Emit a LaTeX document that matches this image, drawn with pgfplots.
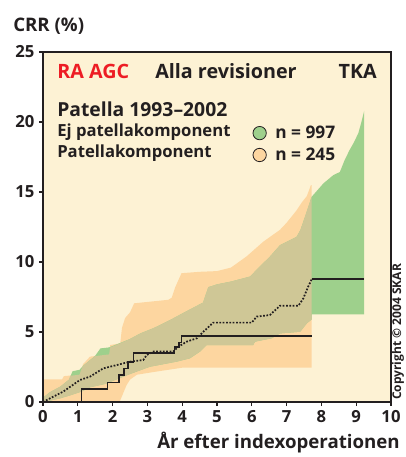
\documentclass[border=0pt]{standalone}
\usepackage{fontspec}
\setmainfont{Open Sans}
\usepackage{pgfplots}
\pgfplotsset{compat=1.18}
\usepgfplotslibrary{fillbetween}
\usepackage{pgfplotstable}

\definecolor{cream}{RGB}{253,242,212}
\definecolor{orangeband}{RGB}{253,214,160}
\definecolor{greenband}{RGB}{158,208,140}
\definecolor{oliveband}{RGB}{207,199,150}
\definecolor{skarred}{RGB}{237,28,36}
\definecolor{ink}{RGB}{35,31,32}

% Patellakomponent (n = 245): confidence band
\pgfplotstableread{
x y
0 1.62
0.55 1.62
0.6 1.85
1.05 1.95
1.15 2.7
1.35 3.24
1.9 3.4
1.93 4.07
2.22 4.19
2.27 5.3
2.36 6.0
2.5 6.4
2.62 7.05
3.6 7.3
3.7 7.45
3.8 8.2
3.98 9.2
4.5 9.3
5.0 9.35
5.4 9.6
5.85 10.4
6.33 11.45
6.81 12.3
7.0 12.8
7.29 13.7
7.45 14.3
7.58 14.7
7.7 15.5
7.72 15.5
}\orangeupper
\pgfplotstableread{
x y
0 0
2.2 0
2.3 0.6
2.4 1.2
2.5 1.6
2.7 1.95
3.2 2.15
3.6 2.3
4.0 2.45
7.72 2.45
}\orangelower

% Ej patellakomponent (n = 997): confidence band
\pgfplotstableread{
x y
0 0.3
0.2 0.7
0.5 1.1
0.75 1.6
0.85 2.2
1.05 2.3
1.16 2.6
1.5 3.3
1.65 3.83
1.9 3.9
2.2 4.2
2.5 4.5
2.8 4.9
3.2 5.3
3.65 5.85
4.1 6.45
4.6 7.1
4.75 8.2
5.0 8.4
5.4 8.6
5.95 8.96
6.2 9.6
6.52 10.38
6.81 11.2
7.29 11.8
7.4 12.3
7.53 13.24
7.72 14.66
8.06 15.62
8.34 16.2
8.53 16.43
8.67 17.29
8.81 18.0
8.92 18.48
9.06 19.19
9.15 20.0
9.23 20.8
}\greenupper
\pgfplotstableread{
x y
0 0
0.2 0.1
0.49 0.26
0.81 0.5
1.1 0.74
1.35 1.05
1.8 1.3
2.2 1.7
2.5 2.0
3.07 2.52
3.83 2.88
4.22 3.12
4.51 3.6
4.7 4.07
6.04 4.07
6.09 4.31
6.57 4.55
6.81 4.9
7.39 5.02
7.58 5.62
7.72 5.9
7.72 6.26
9.23 6.26
}\greenlower

% overlap of the two bands
\pgfplotstableread{
x y
0 0.3
0.2 0.7
0.5 1.1
0.75 1.6
0.78 1.87
1.05 1.95
1.1 2.32
1.16 2.6
1.5 3.28
1.9 3.4
1.93 3.9
2.22 4.19
2.5 4.5
2.8 4.9
3.2 5.3
3.65 5.85
4.1 6.45
4.6 7.1
4.75 8.2
5.0 8.4
5.4 8.6
5.95 8.96
6.2 9.6
6.52 10.38
6.81 11.2
7.29 11.8
7.4 12.3
7.53 13.24
7.72 14.66
}\overlapupper
\pgfplotstableread{
x y
0 0
0.2 0.1
0.49 0.26
0.81 0.5
1.1 0.74
1.35 1.05
1.8 1.3
2.2 1.7
2.5 2.0
3.07 2.52
3.83 2.88
4.22 3.12
4.51 3.6
4.7 4.07
6.04 4.07
6.09 4.31
6.57 4.55
6.81 4.9
7.39 5.02
7.58 5.62
7.72 5.9
}\overlaplower

% estimates
\pgfplotstableread{
x y
0 0
1.11 0.93
1.85 1.4
2.19 1.93
2.33 2.4
2.45 2.88
2.6 3.48
3.78 3.95
3.9 4.25
3.98 4.71
7.72 4.71
}\patellacurve
\pgfplotstableread{
x y
0 0
0.2 0.26
0.58 0.74
1.06 1.57
1.35 1.81
1.73 2.4
2.12 2.64
2.5 2.88
2.88 3.0
2.98 3.36
3.17 3.6
3.74 3.6
3.89 3.95
4.13 4.31
4.42 4.55
4.61 5.02
4.89 5.67
6.0 5.67
6.14 6.1
6.52 6.21
6.81 6.88
7.34 6.88
7.48 7.4
7.62 8.24
7.72 8.76
}\ejcurve
\pgfplotstableread{
x y
7.72 8.76
9.23 8.76
}\ejtail

\begin{document}
\begin{tikzpicture}
\begin{axis}[
  at={(0pt,0pt)}, anchor=south west,
  scale only axis, width=261pt, height=262.5pt,
  xmin=0, xmax=10, ymin=0, ymax=25,
  xtick={0,1,...,10}, ytick={0,5,...,25},
  xtick pos=bottom, ytick pos=left,
  tick align=outside, major tick length=3pt,
  tick style={ink, line width=0.8pt},
  axis line style={ink, line width=0.9pt},
  axis background/.style={fill=cream},
  axis on top,
  /pgf/number format/assume math mode=true,
  ticklabel style={font=\bfseries\fontsize{12.5}{14}\selectfont, text=ink},
  legend style={draw=none, fill=none, at={(0.59,0.805)}, anchor=north west,
    font=\bfseries\fontsize{13}{15}\selectfont, text=ink, row sep=1.5pt},
  legend cell align=left,
]
\addlegendimage{legend image code/.code={\draw[fill=greenband, draw=ink, line width=0.6pt] (5pt,0) circle (5pt); \path (14.5pt,0);}}
\addlegendentry{n = 997}
\addlegendimage{legend image code/.code={\draw[fill=orangeband, draw=ink, line width=0.6pt] (5pt,0) circle (5pt); \path (14.5pt,0);}}
\addlegendentry{n = 245}

\addplot[name path=ou, draw=none, forget plot] table {\orangeupper};
\addplot[name path=ol, draw=none, forget plot] table {\orangelower};
\addplot[fill=orangeband, draw=none, forget plot] fill between[of=ou and ol];

\addplot[name path=gu, draw=none, forget plot] table {\greenupper};
\addplot[name path=gl, draw=none, forget plot] table {\greenlower};
\addplot[fill=greenband, draw=none, forget plot] fill between[of=gu and gl];

\addplot[name path=vu, draw=none, forget plot] table {\overlapupper};
\addplot[name path=vl, draw=none, forget plot] table {\overlaplower};
\addplot[fill=oliveband, draw=none, forget plot] fill between[of=vu and vl];

\addplot[ink, line width=1.3pt, dash pattern=on 1.3pt off 1.2pt, forget plot] table {\ejcurve};
\addplot[ink, line width=1.3pt, forget plot] table {\ejtail};
\addplot[ink, line width=1.3pt, const plot, forget plot] table {\patellacurve};
\end{axis}

\node[anchor=base west, text=ink, font=\bfseries\fontsize{14}{16}\selectfont, inner sep=0pt] at (-22.5pt,277.7pt) {CRR (\%)};
\node[anchor=base east, text=ink, font=\bfseries\fontsize{14}{16}\selectfont, inner sep=0pt] at (267.75pt,-34.5pt) {År efter indexoperationen};

\node[anchor=base west, text=skarred, font=\bfseries\fontsize{14.8}{16}\selectfont, inner sep=0pt] at (10.5pt,242.25pt) {RA AGC};
\node[anchor=base west, text=ink, font=\bfseries\fontsize{14.8}{16}\selectfont, inner sep=0pt] at (84pt,242.25pt) {Alla revisioner};
\node[anchor=base east, text=ink, font=\bfseries\fontsize{14.8}{16}\selectfont, inner sep=0pt] at (250.5pt,242.25pt) {TKA};
\node[anchor=base west, text=ink, font=\bfseries\fontsize{14.5}{16}\selectfont, inner sep=0pt] at (10.5pt,214pt) {Patella 1993–2002};
\node[anchor=base west, text=ink, font=\bfseries\fontsize{12.5}{14}\selectfont, inner sep=0pt] at (10.5pt,199pt) {Ej patellakomponent};
\node[anchor=base west, text=ink, font=\bfseries\fontsize{12.5}{14}\selectfont, inner sep=0pt] at (10.5pt,183.5pt) {Patellakomponent};

\node[anchor=west, rotate=90, text=ink, font=\bfseries\fontsize{9}{10}\selectfont, inner sep=0pt] at (266.25pt,1.5pt) {Copyright © 2004 SKAR};

\pgfresetboundingbox
\path[use as bounding box] (-32.25pt,-41.25pt) rectangle (272.25pt,301.5pt);
\end{tikzpicture}
\end{document}
